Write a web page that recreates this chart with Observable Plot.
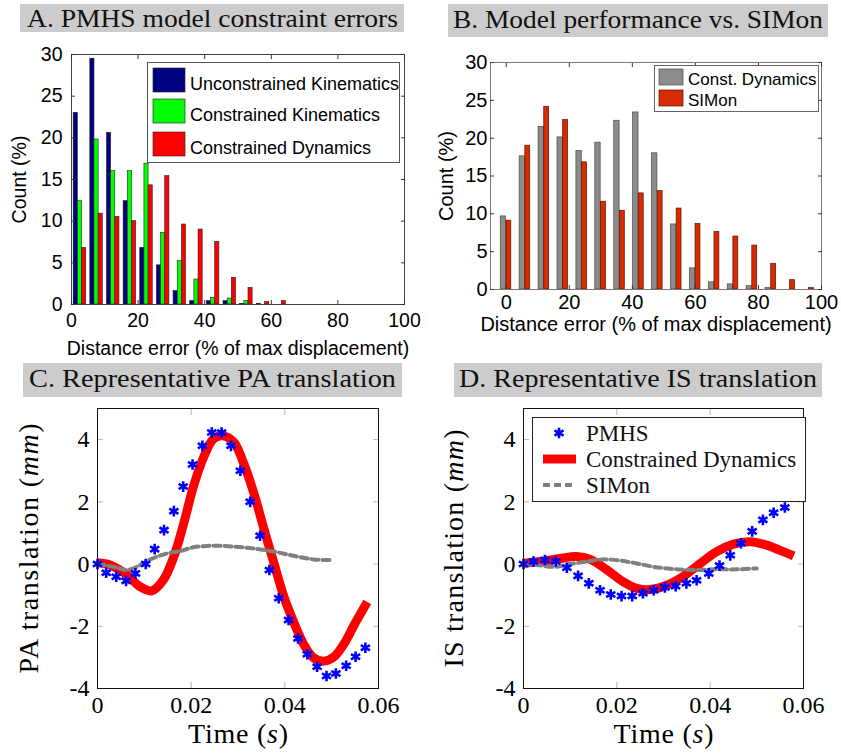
<!DOCTYPE html>
<html><head><meta charset="utf-8">
<script src="https://cdn.jsdelivr.net/npm/d3@7"></script>
<script src="https://cdn.jsdelivr.net/npm/@observablehq/plot@0.6"></script>
<style>
body{margin:0;background:#fff;}
#root{position:relative;width:841px;height:756px;overflow:hidden;background:#fff;}
#root > *{position:absolute;}
</style></head><body><div id="root"></div><script>
// ---------- Panel A data ----------
const binsA = [2.5, 7.5, 12.5, 17.5, 22.5, 27.5, 32.5, 37.5, 42.5, 47.5, 52.5, 57.5, 62.5];
const unconstrainedKinematics = [23.0, 29.5, 20.6, 12.4, 6.8, 4.7, 1.6, 0.4, 0.4, 0.4, 0.08, 0.05, 0];
const constrainedKinematics = [12.4, 19.8, 16.0, 16.0, 16.9, 8.6, 5.2, 3.0, 0.8, 0.72, 0.4, 0, 0];
const constrainedDynamicsA = [6.8, 10.9, 10.5, 10.0, 14.3, 15.4, 9.6, 9.0, 7.5, 3.2, 2.0, 0.28, 0.4];
const legendA = ["Unconstrained Kinematics", "Constrained Kinematics", "Constrained Dynamics"];
const colorsA = ["#000080", "#00ff00", "#ff0000"];
const ticksDist = [0, 20, 40, 60, 80, 100];
const ticksCount = [0, 5, 10, 15, 20, 25, 30];

// ---------- Panel B data ----------
const binsB = [0, 6, 12, 18, 24, 30, 36, 42, 48, 54, 60, 66, 72, 78, 84, 90, 96];
const constDynamicsB = [9.66, 17.6, 21.5, 20.1, 18.3, 19.4, 22.3, 23.4, 18.0, 8.6, 2.8, 0.95, 0.68, 0.44, 0.18, 0, 0];
const simonB = [9.1, 19.0, 24.15, 22.4, 16.8, 11.6, 10.4, 12.7, 13.0, 10.7, 8.65, 7.6, 7.0, 5.8, 3.4, 1.23, 0.18];
const legendB = ["Const. Dynamics", "SIMon"];
const colorsB = ["#8c8c8c", "#d92b00"];

// ---------- Panel C data (PA translation) ----------
const pmhsTimeC = [0, 0.00186, 0.004, 0.0061, 0.0081, 0.0103, 0.0122, 0.0142, 0.0163, 0.0183, 0.0203, 0.0224, 0.0244, 0.0265, 0.0285, 0.0305, 0.0326, 0.0347, 0.0367, 0.0387, 0.0408, 0.0428, 0.0448, 0.0469, 0.0489, 0.0509, 0.0531, 0.0551, 0.0572];
const pmhsPA = [0, -0.28, -0.41, -0.54, -0.30, 0, 0.48, 1.09, 1.70, 2.49, 3.2, 3.8, 4.23, 4.23, 3.8, 3.0, 2.0, 0.91, -0.19, -1.1, -1.8, -2.39, -2.9, -3.3, -3.6, -3.52, -3.27, -2.98, -2.69];
const dynTimeC = [0, 0.0027, 0.0063, 0.0091, 0.0116, 0.0141, 0.0163, 0.0184, 0.0205, 0.0227, 0.0248, 0.0268, 0.0291, 0.0312, 0.0334, 0.0355, 0.0377, 0.0398, 0.042, 0.0441, 0.0462, 0.0484, 0.0505, 0.0527, 0.0548, 0.0576];
const dynPA = [0.04, -0.03, -0.35, -0.73, -0.86, -0.5, 0.24, 1.3, 2.5, 3.45, 4.03, 4.12, 3.92, 3.24, 2.27, 1.15, 0.02, -1.05, -1.9, -2.6, -3.02, -3.12, -2.98, -2.55, -1.96, -1.22];
const simonTimeC = [0, 0.0034, 0.0063, 0.0084, 0.0113, 0.0148, 0.0177, 0.0205, 0.0248, 0.0291, 0.0334, 0.0377, 0.042, 0.0462, 0.0498];
const simonPA = [0, -0.09, -0.19, -0.09, 0.15, 0.34, 0.42, 0.54, 0.59, 0.56, 0.5, 0.4, 0.26, 0.15, 0.13];

// ---------- Panel D data (IS translation) ----------
const pmhsTimeD = [0, 0.00214, 0.0046, 0.0069, 0.0093, 0.0117, 0.014, 0.0164, 0.0187, 0.021, 0.0233, 0.0256, 0.0279, 0.0303, 0.0326, 0.0349, 0.0371, 0.0397, 0.042, 0.0443, 0.0466, 0.049, 0.0513, 0.0536, 0.056];
const pmhsIS = [0, 0.08, 0.13, 0.08, -0.12, -0.38, -0.62, -0.84, -0.98, -1.03, -1.03, -0.94, -0.84, -0.75, -0.71, -0.62, -0.52, -0.3, -0.05, 0.28, 0.67, 1.05, 1.42, 1.65, 1.82];
const dynTimeD = [0, 0.0036, 0.0079, 0.0114, 0.0143, 0.0179, 0.0214, 0.0243, 0.0271, 0.0307, 0.0343, 0.0379, 0.0414, 0.045, 0.0486, 0.0521, 0.0557, 0.0579];
const dynIS = [0.02, 0.08, 0.18, 0.24, 0.15, -0.19, -0.57, -0.78, -0.82, -0.68, -0.39, 0.02, 0.4, 0.64, 0.72, 0.61, 0.4, 0.26];
const simonTimeD = [0, 0.0029, 0.0064, 0.01, 0.0136, 0.0171, 0.0207, 0.0243, 0.0279, 0.0321, 0.0364, 0.0407, 0.0457, 0.05];
const simonIS = [0, -0.03, -0.09, 0, 0.08, 0.15, 0.11, 0.02, -0.09, -0.16, -0.19, -0.17, -0.17, -0.14];
const legendD = ["PMHS", "Constrained Dynamics", "SIMon"];
const ticksTime = [0, 0.02, 0.04, 0.06];
const ticksTrans = [-4, -2, 0, 2, 4];

const titles = ["A. PMHS model constraint errors", "B. Model performance vs. SIMon", "C. Representative PA translation", "D. Representative IS translation"];

const SANS = "'Liberation Sans', Arial, Helvetica, sans-serif";
const SERIF = "'Liberation Serif', 'Times New Roman', serif";
const root = document.getElementById("root");
function place(el, left, top) { el.style.left = left + "px"; el.style.top = top + "px"; root.appendChild(el); return el; }

// ---------- Panel A ----------
const offA = [[-1.85, -0.6], [-0.6, 0.65], [0.65, 1.9]];
const seriesA = [unconstrainedKinematics, constrainedKinematics, constrainedDynamicsA];
const plotA = Plot.plot({
  width: 420, height: 370,
  marginLeft: 71, marginRight: 16, marginTop: 54, marginBottom: 66,
  style: {fontFamily: SANS, fontSize: "19.5px", color: "#000", background: "transparent", overflow: "visible"},
  x: {domain: [0, 100]}, y: {domain: [0, 30]},
  marks: [
    ...seriesA.map((s, k) => Plot.rect(binsA, {x1: c => c + offA[k][0], x2: c => c + offA[k][1], y1: 0, y2: (c, i) => s[i], fill: colorsA[k], stroke: "#222", strokeWidth: 0.6})),
    Plot.frame({stroke: "#444"}),
    Plot.axisX({ticks: ticksDist, tickSize: -4, tickPadding: 13, stroke: "#333", label: "Distance error (% of max displacement)", labelAnchor: "center", labelArrow: "none", labelOffset: 50}),
    Plot.axisX({anchor: "top", ticks: ticksDist, tickSize: -4, stroke: "#333", tickFormat: () => "", label: null}),
    Plot.axisY({ticks: ticksCount, tickSize: -4, tickPadding: 13, stroke: "#333", label: "Count (%)", labelAnchor: "center", labelArrow: "none", labelOffset: 59}),
    Plot.axisY({anchor: "right", ticks: ticksCount, tickSize: -4, stroke: "#333", tickFormat: () => "", label: null})
  ]
});
place(plotA, 0, 0);

// ---------- Panel B ----------
const offB = [[-1.75, -0.05], [0.05, 1.6]];
const seriesB = [constDynamicsB, simonB];
const strokesB = ["#4a4a4a", "#5a1000"];
const plotB = Plot.plot({
  width: 421, height: 370,
  marginLeft: 70, marginRight: 20, marginTop: 62, marginBottom: 81,
  style: {fontFamily: SANS, fontSize: "20px", color: "#000", background: "transparent", overflow: "visible"},
  x: {domain: [-5, 100]}, y: {domain: [0, 30]},
  marks: [
    ...seriesB.map((s, k) => Plot.rect(binsB, {x1: c => c + offB[k][0], x2: c => c + offB[k][1], y1: 0, y2: (c, i) => s[i], fill: colorsB[k], stroke: strokesB[k], strokeWidth: 0.7})),
    Plot.frame({stroke: "#777"}),
    Plot.axisX({ticks: ticksDist, tickSize: -4, tickPadding: 9, stroke: "#333", label: "Distance error (% of max displacement)", labelAnchor: "center", labelArrow: "none", labelOffset: 41}),
    Plot.axisX({anchor: "top", ticks: ticksDist, tickSize: -4, stroke: "#333", tickFormat: () => "", label: null}),
    Plot.axisY({ticks: ticksCount, tickSize: -4, tickPadding: 7, stroke: "#333", label: "Count (%)", labelAnchor: "center", labelArrow: "none", labelOffset: 52}),
    Plot.axisY({anchor: "right", ticks: ticksCount, tickSize: -4, stroke: "#333", tickFormat: () => "", label: null})
  ]
});
place(plotB, 420, 0);

// ---------- Panels C & D ----------
function transPanel({pmhsT, pmhsV, dynT, dynV, simT, simV, marginLeft, marginRight, width, ylabel, ylabelOffset, ylabelLen}) {
  const fmtX = d => d === 0 ? "0" : d.toFixed(2);
  const svg = Plot.plot({
    width, height: 386,
    marginLeft, marginRight, marginTop: 38, marginBottom: 68,
    style: {fontFamily: SERIF, fontSize: "24px", color: "#000", background: "transparent", overflow: "visible"},
    x: {domain: [0, 0.06]}, y: {domain: [-4, 5]},
    marks: [
      Plot.axisX({ticks: ticksTime, tickSize: -6, tickPadding: 13, stroke: "#b4b4b4", tickFormat: fmtX, label: "Time (s)", labelAnchor: "center", labelArrow: "none", labelOffset: 54}),
      Plot.axisX({anchor: "top", ticks: ticksTime, tickSize: -6, stroke: "#b4b4b4", tickFormat: () => "", label: null}),
      Plot.axisY({ticks: ticksTrans, tickSize: -6, tickPadding: 14, stroke: "#b4b4b4", tickFormat: d => String(d), label: ylabel + " (mm)", labelAnchor: "center", labelArrow: "none", labelOffset: ylabelOffset}),
      Plot.axisY({anchor: "right", ticks: ticksTrans, tickSize: -6, stroke: "#b4b4b4", tickFormat: () => "", label: null}),
      Plot.line(dynT, {x: d => d, y: (d, i) => dynV[i], stroke: "#ff0000", strokeWidth: 9, curve: "catmull-rom", strokeLinecap: "butt"}),
      Plot.line(simT, {x: d => d, y: (d, i) => simV[i], stroke: "#808080", strokeWidth: 4, strokeDasharray: "7,4", curve: "catmull-rom"}),
      Plot.dot(pmhsT, {x: d => d, y: (d, i) => pmhsV[i], symbol: "asterisk", r: 5, stroke: "#0000ff", strokeWidth: 2.6}),
      Plot.frame({stroke: "#111"})
    ]
  });
  const xl = d3.select(svg).select('g[aria-label="x-axis label"] text');
  xl.text(null).attr("font-size", 28).attr("textLength", 100).attr("lengthAdjust", "spacing");
  xl.append("tspan").text("Time ("); xl.append("tspan").attr("font-style", "italic").text("s"); xl.append("tspan").text(")");
  const yl = d3.select(svg).select('g[aria-label="y-axis label"] text');
  yl.text(null).attr("font-size", 28).attr("textLength", ylabelLen).attr("lengthAdjust", "spacing");
  yl.append("tspan").text(ylabel + " ("); yl.append("tspan").attr("font-style", "italic").text("mm"); yl.append("tspan").text(")");
  return svg;
}
place(transPanel({pmhsT: pmhsTimeC, pmhsV: pmhsPA, dynT: dynTimeC, dynV: dynPA, simT: simonTimeC, simV: simonPA, marginLeft: 97, marginRight: 42, width: 420, ylabel: "PA translation", ylabelOffset: 79, ylabelLen: 250}), 0, 370);
place(transPanel({pmhsT: pmhsTimeD, pmhsV: pmhsIS, dynT: dynTimeD, dynV: dynIS, simT: simonTimeD, simV: simonIS, marginLeft: 103, marginRight: 38, width: 421, ylabel: "IS translation", ylabelOffset: 80, ylabelLen: 238}), 420, 370);

// ---------- Titles ----------
const titleBoxes = [
  {x: 20, y: 4, w: 384, h: 28, tx: 7, tw: 371, base: 23},
  {x: 448, y: 4, w: 380, h: 33, tx: 5, tw: 370, base: 24},
  {x: 23, y: 363, w: 379, h: 34, tx: 6, tw: 367, base: 24},
  {x: 454, y: 363, w: 368, h: 34, tx: 5, tw: 358, base: 24}
];
titleBoxes.forEach((b, i) => {
  const s = d3.create("svg").attr("width", b.w).attr("height", b.h);
  s.append("rect").attr("width", b.w).attr("height", b.h).attr("fill", "#cccccc");
  s.append("text").attr("x", b.tx).attr("y", b.base).attr("textLength", b.tw).attr("lengthAdjust", "spacingAndGlyphs")
    .attr("font-family", SERIF).attr("font-size", 26).attr("fill", "#111").text(titles[i]);
  place(s.node(), b.x, b.y);
});

// ---------- Legend A ----------
{
  const s = d3.create("svg").attr("width", 253).attr("height", 101);
  s.append("rect").attr("x", 0.5).attr("y", 0.5).attr("width", 252).attr("height", 100).attr("fill", "#fff").attr("stroke", "#555");
  const ys = [6, 37, 70];
  legendA.forEach((t, i) => {
    s.append("rect").attr("x", 6).attr("y", ys[i]).attr("width", 32).attr("height", 24).attr("fill", colorsA[i]).attr("stroke", "#333").attr("stroke-width", 0.7);
    s.append("text").attr("x", 43).attr("y", ys[i] + 16).attr("dy", "0.35em").attr("font-family", SANS).attr("font-size", 18).text(t);
  });
  place(s.node(), 147, 62);
}
// ---------- Legend B ----------
{
  const s = d3.create("svg").attr("width", 165).attr("height", 47);
  s.append("rect").attr("x", 0.5).attr("y", 0.5).attr("width", 164).attr("height", 46).attr("fill", "#fff").attr("stroke", "#666");
  const ys = [4, 25];
  legendB.forEach((t, i) => {
    s.append("rect").attr("x", 5).attr("y", ys[i]).attr("width", 24).attr("height", 16).attr("fill", colorsB[i]).attr("stroke", strokesB[i]).attr("stroke-width", 0.7);
    s.append("text").attr("x", 34).attr("y", ys[i] + 10).attr("dy", "0.35em").attr("font-family", SANS).attr("font-size", 17).text(t);
  });
  place(s.node(), 654, 65);
}
// ---------- Legend D ----------
{
  const s = d3.create("svg").attr("width", 274).attr("height", 85);
  s.append("rect").attr("x", 0.5).attr("y", 0.5).attr("width", 273).attr("height", 84).attr("fill", "#fff").attr("stroke", "#222");
  s.append("path").attr("transform", "translate(27,16)").attr("d", d3.symbol(d3.symbolAsterisk, Math.PI * 25)()).attr("stroke", "#0000ff").attr("stroke-width", 2.6).attr("fill", "none");
  s.append("line").attr("x1", 11).attr("x2", 44).attr("y1", 42).attr("y2", 42).attr("stroke", "#ff0000").attr("stroke-width", 9);
  s.append("line").attr("x1", 11).attr("x2", 44).attr("y1", 68).attr("y2", 68).attr("stroke", "#808080").attr("stroke-width", 4).attr("stroke-dasharray", "7,4");
  [16, 42, 68].forEach((y, i) => {
    s.append("text").attr("x", 54).attr("y", y).attr("dy", "0.35em").attr("font-family", SERIF).attr("font-size", 23).attr("fill", "#111").text(legendD[i]);
  });
  place(s.node(), 532, 417);
}
</script></body></html>
